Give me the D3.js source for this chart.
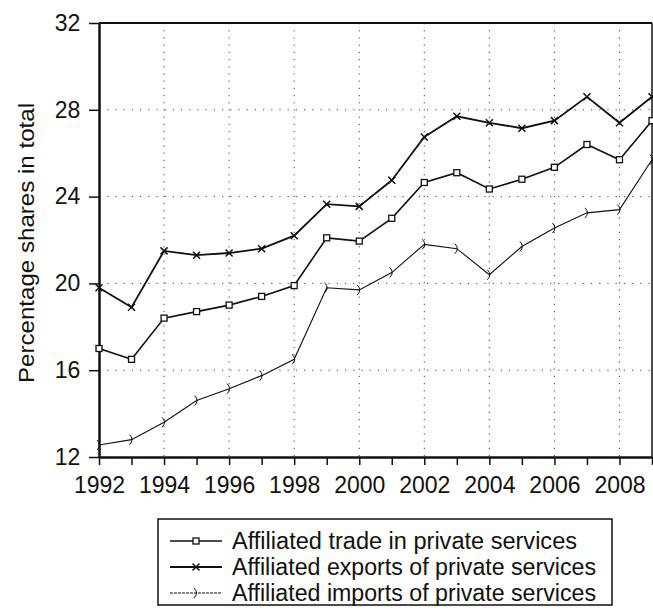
<!DOCTYPE html>
<html>
<head>
<meta charset="utf-8">
<script src="https://cdn.jsdelivr.net/npm/d3@7"></script>
<style>
  body { margin: 0; background: #fff; }
  svg text { font-family: "Liberation Sans", Arial, sans-serif; fill: #111; }
</style>
</head>
<body>
<svg id="chart"></svg>
<script>
// data
const years = d3.range(1992, 2010);
const tradeShares = [17.0, 16.5, 18.4, 18.7, 19.0, 19.4, 19.9, 22.1, 21.95, 23.0, 24.65, 25.1, 24.35, 24.8, 25.35, 26.4, 25.7, 27.5];
const exportShares = [19.8, 18.9, 21.5, 21.3, 21.4, 21.6, 22.2, 23.65, 23.55, 24.75, 26.75, 27.7, 27.4, 27.15, 27.5, 28.6, 27.4, 28.6];
const importShares = [12.55, 12.8, 13.6, 14.6, 15.15, 15.75, 16.5, 19.8, 19.7, 20.5, 21.8, 21.6, 20.4, 21.7, 22.55, 23.25, 23.4, 25.7];
const yTicks = [12, 16, 20, 24, 28, 32];
const xTickLabels = [1992, 1994, 1996, 1998, 2000, 2002, 2004, 2006, 2008];
const seriesNames = [
  'Affiliated trade in private services',
  'Affiliated exports of private services',
  'Affiliated imports of private services'
];

const config = {
  width: 653, height: 614,
  margin: {top: 23, right: 1, bottom: 157, left: 99}
};
const innerW = config.width - config.margin.left - config.margin.right;
const innerH = config.height - config.margin.top - config.margin.bottom;

const svg = d3.select('#chart')
  .attr('width', config.width)
  .attr('height', config.height);

const chart = svg.append('g')
  .attr('transform', `translate(${config.margin.left},${config.margin.top})`);

const xScale = d3.scaleLinear().domain([1992, 2009]).range([0, innerW]);
const yScale = d3.scaleLinear().domain([12, 32]).range([innerH, 0]);

// dotted grid
chart.append('g').selectAll('line')
  .data(xTickLabels.filter(d => d > 1992))
  .join('line')
    .attr('x1', d => xScale(d)).attr('x2', d => xScale(d))
    .attr('y1', 0).attr('y2', innerH)
    .attr('stroke', '#444').attr('stroke-width', 1)
    .attr('stroke-dasharray', '1.2,6');
chart.append('g').selectAll('line')
  .data(yTicks.filter(d => d > 12 && d < 32))
  .join('line')
    .attr('x1', 0).attr('x2', innerW)
    .attr('y1', d => yScale(d)).attr('y2', d => yScale(d))
    .attr('stroke', '#444').attr('stroke-width', 1)
    .attr('stroke-dasharray', '1.2,7');

// axes
const xAxis = d3.axisBottom(xScale)
  .tickValues(years)
  .tickSize(8)
  .tickSizeOuter(0)
  .tickFormat(d => xTickLabels.includes(d) ? d : '');
const yAxis = d3.axisLeft(yScale)
  .tickValues(yTicks)
  .tickSize(10)
  .tickSizeOuter(0);

const xAxisG = chart.append('g')
  .attr('transform', `translate(0,${innerH})`)
  .call(xAxis);
xAxisG.selectAll('text').attr('font-size', 23).attr('dy', '1.1em');
const yAxisG = chart.append('g').call(yAxis);
yAxisG.selectAll('text').attr('font-size', 23).attr('dx', '-0.25em');
svg.selectAll('.domain, .tick line').attr('stroke', '#111').attr('stroke-width', 1.5);
yAxisG.select('.domain').attr('stroke-width', 2.5);
xAxisG.select('.domain').attr('stroke-width', 2.5);

// frame top and right
chart.append('line').attr('x1', 0).attr('x2', innerW).attr('y1', 0).attr('y2', 0)
  .attr('stroke', '#111').attr('stroke-width', 2);
chart.append('line').attr('x1', innerW).attr('x2', innerW).attr('y1', 0).attr('y2', innerH)
  .attr('stroke', '#111').attr('stroke-width', 1.5);

// y label
svg.append('text')
  .attr('transform', `translate(34,243) rotate(-90)`)
  .attr('text-anchor', 'middle')
  .attr('font-size', 22)
  .attr('textLength', 280)
  .attr('lengthAdjust', 'spacingAndGlyphs')
  .text('Percentage shares in total');

// marker drawers
function drawMarker(g, type, x, y) {
  if (type === 'square') {
    g.append('rect').attr('x', x - 3).attr('y', y - 3).attr('width', 6).attr('height', 6)
      .attr('fill', '#fff').attr('stroke', '#111').attr('stroke-width', 1.3);
  } else if (type === 'cross') {
    g.append('path').attr('d', `M${x-3.5},${y-3.5}L${x+3.5},${y+3.5}M${x-3.5},${y+3.5}L${x+3.5},${y-3.5}`)
      .attr('stroke', '#111').attr('stroke-width', 1.5);
  } else {
    g.append('path').attr('d', `M${x-2},${y-5}Q${x+3},${y},${x-2},${y+5}`)
      .attr('fill', 'none').attr('stroke', '#111').attr('stroke-width', 1);
  }
}

const series = [
  {name: seriesNames[0], values: tradeShares, marker: 'square', width: 1.6},
  {name: seriesNames[1], values: exportShares, marker: 'cross', width: 1.8},
  {name: seriesNames[2], values: importShares, marker: 'tick', width: 1.1}
];

const line = d3.line()
  .x((d, i) => xScale(years[i]))
  .y(d => yScale(d));

series.forEach(s => {
  chart.append('path')
    .datum(s.values)
    .attr('fill', 'none')
    .attr('stroke', '#111')
    .attr('stroke-width', s.width)
    .attr('d', line);
  const mg = chart.append('g');
  s.values.forEach((v, i) => drawMarker(mg, s.marker, xScale(years[i]), yScale(v)));
});

// legend
const legend = svg.append('g').attr('transform', 'translate(158,519)');
legend.append('rect')
  .attr('width', 454).attr('height', 86)
  .attr('fill', '#fff').attr('stroke', '#111').attr('stroke-width', 1.5);
series.forEach((s, i) => {
  const y = 22 + i * 26;
  legend.append('line')
    .attr('x1', 12).attr('x2', 64).attr('y1', y).attr('y2', y)
    .attr('stroke', '#111').attr('stroke-width', s.width)
    .attr('stroke-dasharray', i === 2 ? '3,1' : null);
  drawMarker(legend, s.marker, 38, y);
  legend.append('text')
    .attr('x', 74).attr('y', y)
    .attr('dy', '0.35em')
    .attr('font-size', 23)
    .attr('textLength', i === 0 ? 345 : 364)
    .attr('lengthAdjust', 'spacingAndGlyphs')
    .text(s.name);
});
</script>
</body>
</html>
